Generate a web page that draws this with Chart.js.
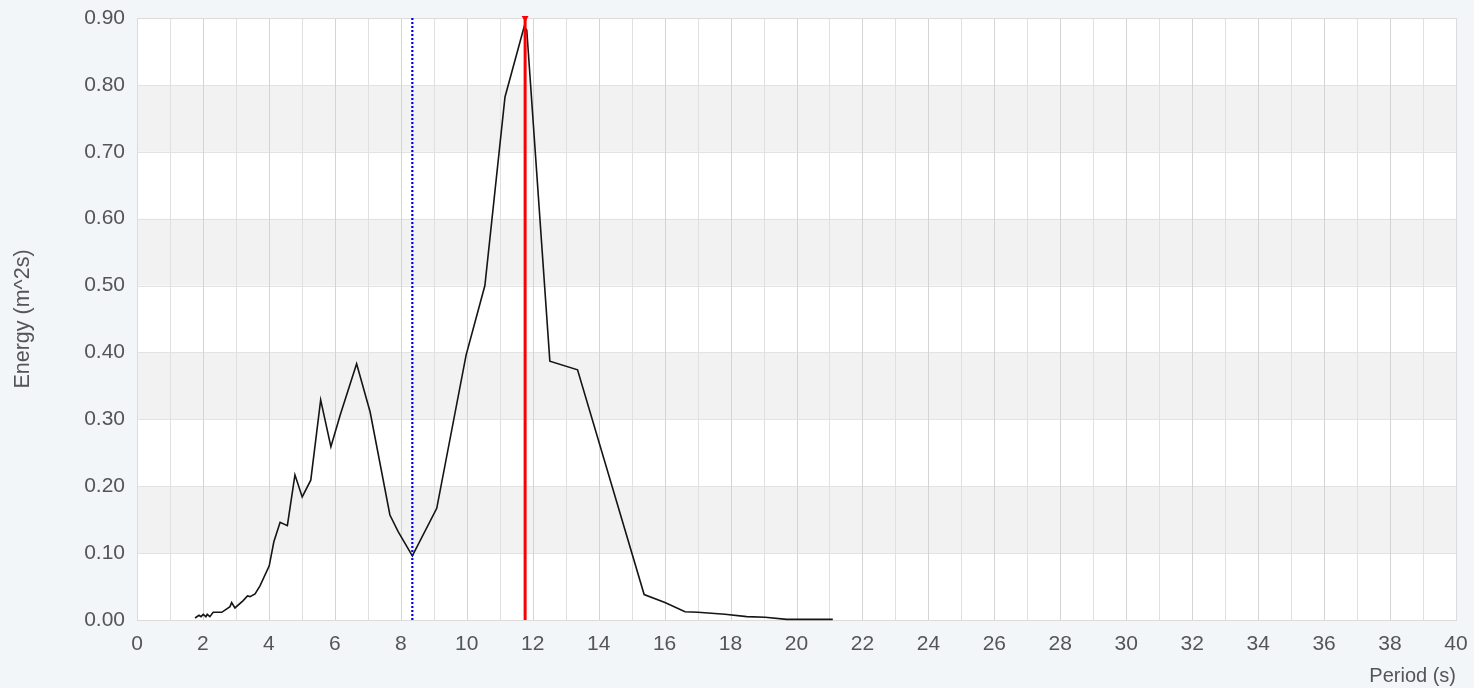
<!DOCTYPE html>
<html>
<head>
<meta charset="utf-8">
<script src="https://cdn.jsdelivr.net/npm/chart.js@4"></script>
<style>
  html, body { margin: 0; padding: 0; background: #f3f6f9; overflow: hidden; }
  canvas { display: block; }
</style>
</head>
<body>
<canvas id="spectrum" width="1474" height="688"></canvas>
<script>
// spectrum
var periods = [1.76, 1.88, 1.94, 2.01, 2.09, 2.13, 2.21, 2.31, 2.57, 2.82, 2.87, 2.97, 3.22, 3.35, 3.43, 3.58, 3.73,
  4.01, 4.15, 4.34, 4.56, 4.79, 5.01, 5.27, 5.57, 5.88, 6.16, 6.66, 7.07, 7.67, 7.92, 8.35, 9.09, 9.98, 10.55,
  11.16, 11.74, 11.82, 12.52, 13.36, 15.38, 16.01, 16.62, 17.01, 17.83, 18.49, 19.05, 19.7, 21.1];
var energy = [0.003, 0.007, 0.005, 0.0085, 0.005, 0.0085, 0.005, 0.0115, 0.0115, 0.02, 0.026, 0.018, 0.029, 0.036, 0.035, 0.039, 0.051,
  0.081, 0.117, 0.146, 0.141, 0.217, 0.184, 0.209, 0.329, 0.259, 0.306, 0.383, 0.311, 0.157, 0.132, 0.096, 0.167, 0.396, 0.50,
  0.782, 0.887, 0.882, 0.387, 0.374, 0.038, 0.026, 0.0124, 0.0115, 0.0085, 0.005, 0.004, 0.001, 0.001];

var peakPeriod = 11.77;  // red line
var meanPeriod = 8.35;   // blue dotted line
var yTop = 0.9;
var xMax = 40;

var spectrumPoints = [];
for (var i = 0; i < periods.length; i++) {
  spectrumPoints.push({ x: periods[i], y: energy[i] });
}

// white plot with grey bands on every other row, then the grid
var backdropPlugin = {
  id: "backdrop",
  beforeDatasetsDraw: function (chart) {
    var ctx = chart.ctx;
    var area = chart.chartArea;
    var x = chart.scales.x;
    var y = chart.scales.y;
    var w = area.right - area.left;
    ctx.save();
    ctx.fillStyle = "#ffffff";
    ctx.fillRect(area.left, area.top, w, area.bottom - area.top);
    ctx.fillStyle = "#f2f2f2";
    for (var k = 1; k < 9; k += 2) {
      var top = y.getPixelForValue((k + 1) / 10);
      var bottom = y.getPixelForValue(k / 10);
      ctx.fillRect(area.left, top, w, bottom - top);
    }
    ctx.lineWidth = 1;
    ctx.strokeStyle = "#e3e3e3";
    for (var j = 0; j <= 9; j++) {
      var py = Math.round(y.getPixelForValue(j / 10)) + 0.5;
      ctx.beginPath(); ctx.moveTo(area.left, py); ctx.lineTo(area.right, py); ctx.stroke();
    }
    for (var t = 0; t <= xMax; t++) {
      ctx.strokeStyle = t % 2 === 0 ? "#d4d4d4" : "#e0e0e0";
      var px = Math.round(x.getPixelForValue(t)) + 0.5;
      ctx.beginPath(); ctx.moveTo(px, area.top); ctx.lineTo(px, area.bottom); ctx.stroke();
    }
    ctx.strokeStyle = "#dcdcdc";
    ctx.strokeRect(Math.round(area.left) + 0.5, Math.round(area.top) + 0.5, Math.round(w), Math.round(area.bottom - area.top));
    ctx.restore();
  }
};

var textFont = "'Liberation Sans', Arial, sans-serif";

var ctx = document.getElementById("spectrum").getContext("2d");
var chart = new Chart(ctx, {
  type: "line",
  data: {
    datasets: [
      {
        label: "Spectrum",
        data: spectrumPoints,
        borderColor: "#151515",
        borderWidth: 1.6,
        pointRadius: 0,
        tension: 0,
        order: 3
      },
      {
        label: "Mean period",
        data: [{ x: meanPeriod, y: 0 }, { x: meanPeriod, y: yTop }],
        borderColor: "#0000f0",
        borderWidth: 2.2,
        borderDash: [2, 2],
        pointRadius: 0,
        order: 2
      },
      {
        label: "Peak period",
        data: [{ x: peakPeriod, y: 0 }, { x: peakPeriod, y: yTop }],
        borderColor: "#ff0000",
        borderWidth: 3,
        pointRadius: [0, 4],
        pointStyle: "triangle",
        rotation: 180,
        pointBackgroundColor: "#ff0000",
        pointBorderWidth: 0,
        order: 1
      }
    ]
  },
  plugins: [backdropPlugin],
  options: {
    responsive: false,
    animation: false,
    devicePixelRatio: 1,
    clip: false,
    layout: { padding: { top: 18, right: 18, left: 0, bottom: 0 } },
    plugins: {
      legend: { display: false },
      tooltip: { enabled: false }
    },
    scales: {
      x: {
        type: "linear",
        min: 0,
        max: xMax,
        grid: { display: false, drawTicks: false },
        border: { display: false },
        afterFit: function (scale) {
          scale.height = 68;
          scale.paddingLeft = 0;
          scale.paddingRight = 0;
        },
        ticks: {
          stepSize: 1,
          autoSkip: false,
          maxRotation: 0,
          color: "#555",
          font: { family: textFont, size: 21 },
          padding: 12,
          callback: function (v) { return v % 2 === 0 ? String(v) : ""; }
        },
        title: {
          display: true,
          text: "Period (s)",
          align: "end",
          color: "#555",
          font: { family: textFont, size: 20 },
          padding: { top: 0, bottom: 0 }
        }
      },
      y: {
        min: 0,
        max: yTop,
        grid: { display: false, drawTicks: false },
        border: { display: false },
        afterFit: function (scale) {
          scale.width = 137;
          scale.paddingTop = 0;
          scale.paddingBottom = 0;
        },
        ticks: {
          stepSize: 0.1,
          color: "#555",
          font: { family: textFont, size: 21 },
          padding: 12,
          callback: function (v) { return v.toFixed(2); }
        },
        title: {
          display: true,
          text: "Energy (m^2s)",
          color: "#555",
          font: { family: textFont, size: 21.5 },
          padding: { top: 10, bottom: 0 }
        }
      }
    }
  }
});
</script>
</body>
</html>
